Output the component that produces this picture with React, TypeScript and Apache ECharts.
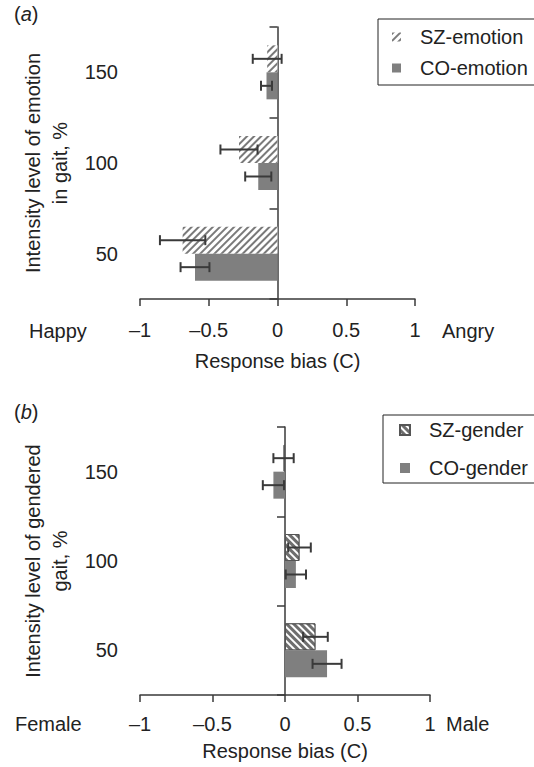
import React, { useEffect, useRef } from "react";
import * as echarts from "echarts";

const categories = ["50", "100", "150"];
const szEmotion = [-0.69, -0.28, -0.075];
const szEmotionErr = [0.165, 0.135, 0.105];
const coEmotion = [-0.6, -0.14, -0.08];
const coEmotionErr = [0.105, 0.095, 0.04];
const szGender = [0.21, 0.1, -0.01];
const szGenderErr = [0.085, 0.078, 0.07];
const coGender = [0.29, 0.075, -0.08];
const coGenderErr = [0.1, 0.07, 0.073];
const xMin = -1;
const xMax = 1;
const xStep = 0.5;

const FONT = "'Liberation Sans', Arial, sans-serif";
const TXT = "#222";
const AX = "#3a3a3a";
const BAR_W = 27;

function errSeries(name: string, vals: number[], errs: number[], idx: number, offset: number) {
  return {
    type: "custom",
    name: name + "-err",
    xAxisIndex: idx,
    yAxisIndex: idx,
    silent: true,
    z: 5,
    encode: { x: 0, y: 1 },
    data: vals.map((v, i) => [v, i, errs[i]]),
    renderItem: (params: any, api: any) => {
      const v = api.value(0);
      const c = api.value(1);
      const e = api.value(2);
      const lo = api.coord([v - e, c]);
      const hi = api.coord([v + e, c]);
      const y = lo[1] + offset;
      const st = { stroke: AX, lineWidth: 2 };
      return {
        type: "group",
        children: [
          { type: "line", shape: { x1: lo[0], y1: y, x2: hi[0], y2: y }, style: st },
          { type: "line", shape: { x1: lo[0], y1: y - 5, x2: lo[0], y2: y + 5 }, style: st },
          { type: "line", shape: { x1: hi[0], y1: y - 5, x2: hi[0], y2: y + 5 }, style: st },
        ],
      };
    },
  };
}

function xAxisCfg(idx: number, margin: number, nameGap: number) {
  return {
    gridIndex: idx,
    type: "value",
    min: xMin,
    max: xMax,
    interval: xStep,
    axisLine: { show: true, onZero: false, lineStyle: { color: AX, width: 1.5 } },
    axisTick: { show: true, length: 7, lineStyle: { color: AX, width: 1.5 } },
    splitLine: { show: false },
    axisLabel: {
      margin,
      fontSize: 20,
      color: TXT,
      fontFamily: FONT,
      formatter: (v: number) => (v < 0 ? "\u2013" + Math.abs(v) : String(v)),
    },
    name: "Response bias (C)",
    nameLocation: "middle",
    nameGap,
    nameTextStyle: { fontSize: 20, color: TXT, fontFamily: FONT },
  };
}

function yAxisCfg(idx: number, name: string, labelMargin: number, nameGap: number) {
  return {
    gridIndex: idx,
    type: "category",
    data: categories,
    axisLine: { show: true, onZero: true, lineStyle: { color: AX, width: 1.5 } },
    axisTick: { show: true, length: 8, lineStyle: { color: AX, width: 1.5 } },
    axisLabel: { margin: labelMargin, fontSize: 20, color: TXT, fontFamily: FONT },
    name,
    nameLocation: "middle",
    nameRotate: 90,
    nameGap,
    nameTextStyle: { fontSize: 20, color: TXT, fontFamily: FONT, lineHeight: 27, align: "center" },
  };
}

export default function App() {
  const ref = useRef<HTMLDivElement>(null);
  useEffect(() => {
    if (!ref.current) return;
    const chart = echarts.init(ref.current, null, { renderer: "svg" });
    const option: any = {
      animation: false,
      textStyle: { fontFamily: FONT, color: TXT },
      grid: [
        { left: 140, width: 275, top: 27, height: 272, containLabel: false, outerBoundsMode: "none" },
        { left: 140, width: 290, top: 427, height: 268, containLabel: false, outerBoundsMode: "none" },
      ],
      legend: [
        {
          data: ["SZ-emotion", "CO-emotion"],
          orient: "vertical",
          left: 378,
          top: 19,
          padding: [8, 10, 7, 14],
          itemWidth: 9,
          itemHeight: 9,
          itemGap: 11,
          borderColor: "#222",
          borderWidth: 1,
          icon: "rect",
          textStyle: { fontSize: 20, color: TXT, fontFamily: FONT, padding: [0, 0, 0, 14], lineHeight: 20 },
        },
        {
          data: ["SZ-gender", "CO-gender"],
          orient: "vertical",
          left: 383,
          top: 415,
          padding: [5, 14, 5, 16],
          itemWidth: 10,
          itemHeight: 10,
          itemGap: 18,
          borderColor: "#222",
          borderWidth: 1,
          icon: "rect",
          textStyle: { fontSize: 20, color: TXT, fontFamily: FONT, padding: [0, 0, 0, 14], lineHeight: 20 },
        },
      ],
      xAxis: [xAxisCfg(0, 21, 52), xAxisCfg(1, 19, 46)],
      yAxis: [
        yAxisCfg(0, "Intensity level of emotion\nin gait, %", 22, 64),
        yAxisCfg(1, "Intensity level of gendered\ngait, %", 22, 64),
      ],
      series: [
        {
          type: "bar",
          name: "SZ-emotion",
          xAxisIndex: 0,
          yAxisIndex: 0,
          barWidth: BAR_W,
          barGap: "0%",
          data: szEmotion,
          itemStyle: {
            color: "#ffffff",
            decal: {
              symbol: "rect",
              symbolSize: 1,
              dashArrayX: [1, 0],
              dashArrayY: [1.5, 2.5],
              rotation: -Math.PI / 4,
              color: "#7a7a7a",
            },
          },
        },
        {
          type: "bar",
          name: "CO-emotion",
          xAxisIndex: 0,
          yAxisIndex: 0,
          barWidth: BAR_W,
          barGap: "0%",
          data: coEmotion,
          itemStyle: { color: "#7f7f7f" },
        },
        {
          type: "bar",
          name: "SZ-gender",
          xAxisIndex: 1,
          yAxisIndex: 1,
          barWidth: BAR_W,
          barGap: "0%",
          data: szGender,
          itemStyle: {
            color: "#6e6e6e",
            borderColor: "#555",
            borderWidth: 1,
            decal: {
              symbol: "rect",
              symbolSize: 1,
              dashArrayX: [1, 0],
              dashArrayY: [2, 3],
              rotation: Math.PI / 4,
              color: "#ffffff",
            },
          },
        },
        {
          type: "bar",
          name: "CO-gender",
          xAxisIndex: 1,
          yAxisIndex: 1,
          barWidth: BAR_W,
          barGap: "0%",
          data: coGender,
          itemStyle: { color: "#7f7f7f" },
        },
        errSeries("SZ-emotion", szEmotion, szEmotionErr, 0, -BAR_W / 2),
        errSeries("CO-emotion", coEmotion, coEmotionErr, 0, BAR_W / 2),
        errSeries("SZ-gender", szGender, szGenderErr, 1, -BAR_W / 2),
        errSeries("CO-gender", coGender, coGenderErr, 1, BAR_W / 2),
      ],
      graphic: [
        {
          type: "text",
          left: 14,
          top: 4,
          style: {
            text: "({i|a})",
            fontSize: 20,
            fill: TXT,
            fontFamily: FONT,
            rich: { i: { fontStyle: "italic", fontSize: 20, fontFamily: FONT, fill: TXT } },
          },
        },
        {
          type: "text",
          left: 14,
          top: 402,
          style: {
            text: "({i|b})",
            fontSize: 20,
            fill: TXT,
            fontFamily: FONT,
            rich: { i: { fontStyle: "italic", fontSize: 20, fontFamily: FONT, fill: TXT } },
          },
        },
        { type: "text", x: 29, y: 331, style: { text: "Happy", fontSize: 20, fill: TXT, fontFamily: FONT, verticalAlign: "middle" } },
        { type: "text", x: 442, y: 331, style: { text: "Angry", fontSize: 20, fill: TXT, fontFamily: FONT, verticalAlign: "middle" } },
        { type: "text", x: 15, y: 724, style: { text: "Female", fontSize: 20, fill: TXT, fontFamily: FONT, verticalAlign: "middle" } },
        { type: "text", x: 446, y: 724, style: { text: "Male", fontSize: 20, fill: TXT, fontFamily: FONT, verticalAlign: "middle" } },
      ],
    };
    chart.setOption(option);
    return () => chart.dispose();
  }, []);
  return <div ref={ref} style={{ position: "absolute", left: 0, top: 0, width: 534, height: 767 }} />;
}
